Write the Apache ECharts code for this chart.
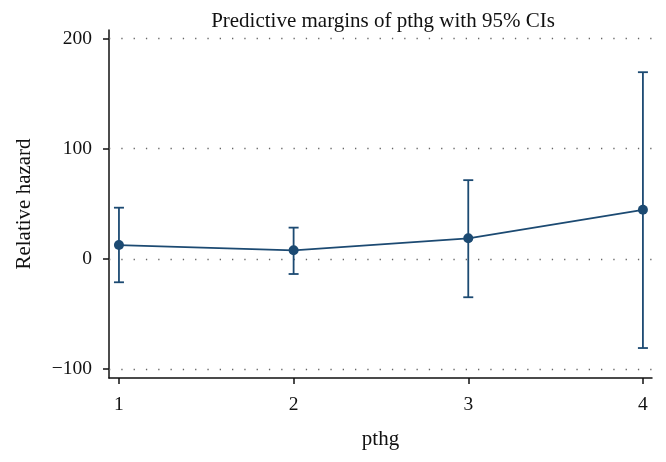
<!DOCTYPE html>
<html>
<head>
<meta charset="utf-8">
<script src="https://cdn.jsdelivr.net/npm/echarts@6/dist/echarts.min.js"></script>
<style>html,body{margin:0;padding:0;background:#fff}#c{width:666px;height:462px}</style>
</head>
<body>
<div id="c"></div>
<script>
var categories = [1, 2, 3, 4];
var margins = [12.5, 7.7, 18.6, 44.5];
var ciLower = [-21.3, -13.8, -34.9, -81];
var ciUpper = [46.4, 28.3, 71.4, 169.4];
var yTicks = [-100, 0, 100, 200];
var xTicks = [1, 2, 3, 4];

var color = '#1c4a72';
var font = '"Liberation Serif", "DejaVu Serif", serif';

var lineData = categories.map(function (c, i) { return [c, margins[i]]; });
var ciData = categories.map(function (c, i) { return [c, ciLower[i], ciUpper[i]]; });

var chart = echarts.init(document.getElementById('c'));
chart.setOption({
  animation: false,
  backgroundColor: '#fff',
  title: {
    text: 'Predictive margins of pthg with 95% CIs',
    left: 378, top: 6, textAlign: 'center',
    textStyle: { fontFamily: font, fontWeight: 'normal', fontSize: 21, color: '#111' }
  },
  grid: { left: 109, right: 14, top: 30, bottom: 84 },
  xAxis: {
    type: 'value', min: 0.943, max: 4.052,
    name: 'pthg', nameLocation: 'middle', nameGap: 51,
    nameTextStyle: { fontFamily: font, fontSize: 21, color: '#111' },
    axisLine: { show: true, onZero: false, lineStyle: { color: '#111', width: 1.5 } },
    axisTick: { show: true, length: 6, customValues: xTicks, lineStyle: { color: '#111', width: 1.5 } },
    axisLabel: { customValues: xTicks, fontFamily: font, fontSize: 19.5, color: '#111', margin: 17 },
    splitLine: { show: false }
  },
  yAxis: {
    type: 'value', min: -108.2, max: 207.7,
    name: 'Relative hazard', nameLocation: 'middle', nameGap: 74, nameRotate: 90,
    nameTextStyle: { fontFamily: font, fontSize: 21, color: '#111' },
    axisLine: { show: true, onZero: false, lineStyle: { color: '#111', width: 1.5 } },
    axisTick: { show: true, length: 6, customValues: yTicks, lineStyle: { color: '#111', width: 1.5 } },
    axisLabel: {
      customValues: yTicks, fontFamily: font, fontSize: 19.5, color: '#111', margin: 17,
      formatter: function (v) { return String(v).replace('-', '\u2212'); }
    },
    splitLine: { show: false }
  },
  series: [
    {
      type: 'custom',
      data: ciData,
      z: 2,
      renderItem: function (params, api) {
        var x = api.value(0);
        var lo = api.coord([x, api.value(1)]);
        var hi = api.coord([x, api.value(2)]);
        var hw = 5;
        var st = { stroke: color, lineWidth: 1.8, fill: null };
        return {
          type: 'group',
          children: [
            { type: 'line', shape: { x1: lo[0], y1: lo[1], x2: hi[0], y2: hi[1] }, style: st },
            { type: 'line', shape: { x1: lo[0] - hw, y1: lo[1], x2: lo[0] + hw, y2: lo[1] }, style: st },
            { type: 'line', shape: { x1: hi[0] - hw, y1: hi[1], x2: hi[0] + hw, y2: hi[1] }, style: st }
          ]
        };
      }
    },
    {
      type: 'line',
      data: lineData,
      z: 3,
      symbol: 'circle', symbolSize: 10,
      itemStyle: { color: color },
      lineStyle: { color: color, width: 1.8 },
      markLine: {
        silent: true, symbol: 'none', z: 1,
        label: { show: false },
        lineStyle: { color: '#666', width: 1.3, type: [1.3, 11] },
        data: yTicks.map(function (v) { return { yAxis: v }; })
      }
    }
  ]
});
</script>
</body>
</html>
